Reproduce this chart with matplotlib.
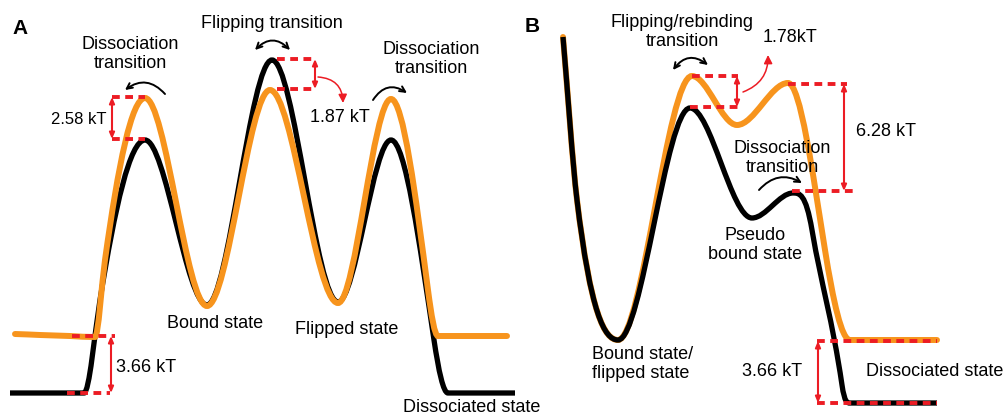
import numpy as np
import matplotlib
matplotlib.use("Agg")
import matplotlib.pyplot as plt
from matplotlib.path import Path
from matplotlib.patches import PathPatch

plt.rcParams['font.family'] = ['Liberation Sans', 'DejaVu Sans']

# Schematic energy landscapes: extrema and a few slope points
# (pixel coords, y pointing down)
a_black_x = [10, 84, 100, 145, 207, 272, 338, 391, 434, 448, 515]
a_black_y = [393, 393, 300, 140, 305, 60, 302, 140, 340, 393, 393]
a_orange_x = [15, 40, 70, 95, 105, 145, 207, 270, 338, 391, 428, 438, 507]
a_orange_y = [334, 335, 336, 337, 260, 98, 306, 90, 303, 99, 290, 336, 336]
b_black_x = [563, 577, 618, 690, 752, 793, 812, 842, 850, 937]
b_black_y = [37, 200, 340, 108, 218, 193, 230, 385, 403, 403]
b_orange_x = [563, 577, 618, 692, 737, 788, 825, 850, 937]
b_orange_y = [37, 200, 340, 76, 125, 83, 250, 340, 340]


def smooth_path(xs, ys):
    # cubic Hermite through the points: flat at turning points,
    # sine-like slope elsewhere (kept monotone), drawn as Bezier segments
    x = np.asarray(xs, float)
    y = np.asarray(ys, float)
    h = np.diff(x)
    d = np.diff(y) / h
    n = len(x)
    m = np.zeros(n)
    for i in range(1, n - 1):
        if d[i - 1] * d[i] > 0:
            s = 1.5 * (y[i + 1] - y[i - 1]) / (x[i + 1] - x[i - 1])
            lim = 3 * min(abs(d[i - 1]), abs(d[i]))
            m[i] = np.sign(s) * min(abs(s), lim)
    m[0] = d[0]
    m[-1] = d[-1]
    verts = [(x[0], y[0])]
    codes = [Path.MOVETO]
    for i in range(n - 1):
        verts += [(x[i] + h[i] / 3, y[i] + m[i] * h[i] / 3),
                  (x[i + 1] - h[i] / 3, y[i + 1] - m[i + 1] * h[i] / 3),
                  (x[i + 1], y[i + 1])]
        codes += [Path.CURVE4] * 3
    return Path(verts, codes)


fig = plt.figure(figsize=(10.06, 4.16), dpi=100)
ax = fig.add_axes([0, 0, 1, 1])
ax.set_xlim(0, 1006)
ax.set_ylim(416, 0)
ax.axis('off')

BLACK = '#000000'
ORANGE = '#f7941d'
RED = '#ec1c24'

# panel A: orange above black
ax.add_patch(PathPatch(smooth_path(a_black_x, a_black_y), fc='none', ec=BLACK, lw=3.8, capstyle='butt', zorder=2))
ax.add_patch(PathPatch(smooth_path(a_orange_x, a_orange_y), fc='none', ec=ORANGE, lw=4.3, capstyle='round', zorder=3))
# panel B: black above orange
ax.add_patch(PathPatch(smooth_path(b_orange_x, b_orange_y), fc='none', ec=ORANGE, lw=4.3, capstyle='round', zorder=2))
ax.add_patch(PathPatch(smooth_path(b_black_x, b_black_y), fc='none', ec=BLACK, lw=3.8, capstyle='butt', zorder=3))


def dash(x0, x1, y):
    ax.plot([x0, x1], [y, y], color=RED, lw=2.8, ls=(0, (2.0, 1.4)), zorder=4)


def vbar(x, y0, y1):
    ax.annotate('', xy=(x, y0), xytext=(x, y1),
                arrowprops=dict(arrowstyle='<|-|>,head_length=0.35,head_width=0.15', color=RED, lw=1.5,
                                shrinkA=0, shrinkB=0), zorder=4)


def carrow(x0, y0, x1, y1, rad, style='->', color=BLACK, lw=1.4):
    ax.annotate('', xy=(x1, y1), xytext=(x0, y0),
                arrowprops=dict(arrowstyle=style, color=color, lw=lw, shrinkA=0, shrinkB=0,
                                connectionstyle='arc3,rad=%s' % rad), zorder=5)


fs = 13
# ---- panel A annotations
ax.text(12, 28, 'A', fontsize=15, fontweight='bold', va='center', ha='left')
ax.text(130, 54, 'Dissociation\ntransition', fontsize=fs, ha='center', va='center', linespacing=1.1)
carrow(165, 94, 125, 90, 0.45)
dash(112, 145, 97)
dash(112, 145, 139)
vbar(112, 97, 139)
ax.text(107, 119, '2.58 kT', fontsize=fs - 1, ha='right', va='center')

ax.text(272, 24, 'Flipping transition', fontsize=fs, ha='center', va='center')
carrow(255, 50, 290, 50, -0.5, style='<->')
dash(277, 313, 59)
dash(277, 313, 89)
vbar(315, 59, 89)
carrow(318, 77, 343, 103, -0.45, color=RED, lw=1.1, style='-|>,head_length=0.5,head_width=0.25')
ax.text(310, 118, '1.87 kT', fontsize=fs, ha='left', va='center')

ax.text(431, 59, 'Dissociation\ntransition', fontsize=fs, ha='center', va='center', linespacing=1.1)
carrow(373, 100, 407, 93, -0.5)

ax.text(215, 323, 'Bound state', fontsize=fs, ha='center', va='center')
ax.text(347, 329, 'Flipped state', fontsize=fs, ha='center', va='center')
dash(72, 115, 336)
dash(67, 110, 393)
vbar(111, 336, 393)
ax.text(116, 368, '3.66 kT', fontsize=fs, ha='left', va='center')
ax.text(403, 408, 'Dissociated state', fontsize=fs, ha='left', va='center')

# ---- panel B annotations
ax.text(525, 27, 'B', fontsize=15, fontweight='bold', va='center', ha='left')
ax.text(682, 32, 'Flipping/rebinding\ntransition', fontsize=fs, ha='center', va='center', linespacing=1.22)
ax.text(763, 38, '1.78kT', fontsize=fs, ha='left', va='center')
carrow(673, 70, 708, 65, -0.5, style='<->')
dash(692, 738, 76)
dash(690, 738, 107)
vbar(737, 76, 107)
carrow(743, 92, 768, 55, 0.35, color=RED, lw=1.1, style='-|>,head_length=0.5,head_width=0.25')
dash(788, 847, 84)
dash(792, 853, 191)
vbar(844, 84, 191)
ax.text(856, 132, '6.28 kT', fontsize=fs, ha='left', va='center')
ax.text(782, 158, 'Dissociation\ntransition', fontsize=fs, ha='center', va='center', linespacing=1.1)
carrow(759, 190, 802, 183, -0.4)
ax.text(755, 245, 'Pseudo\nbound state', fontsize=fs, ha='center', va='center', linespacing=1.1)
ax.text(592, 364, 'Bound state/\nflipped state', fontsize=fs, ha='left', va='center', linespacing=1.2)
ax.text(742, 372, '3.66 kT', fontsize=fs, ha='left', va='center')
dash(817, 937, 341)
dash(817, 937, 403)
vbar(818, 341, 403)
ax.text(866, 372, 'Dissociated state', fontsize=fs, ha='left', va='center')

fig.savefig('out.png', dpi=100)
